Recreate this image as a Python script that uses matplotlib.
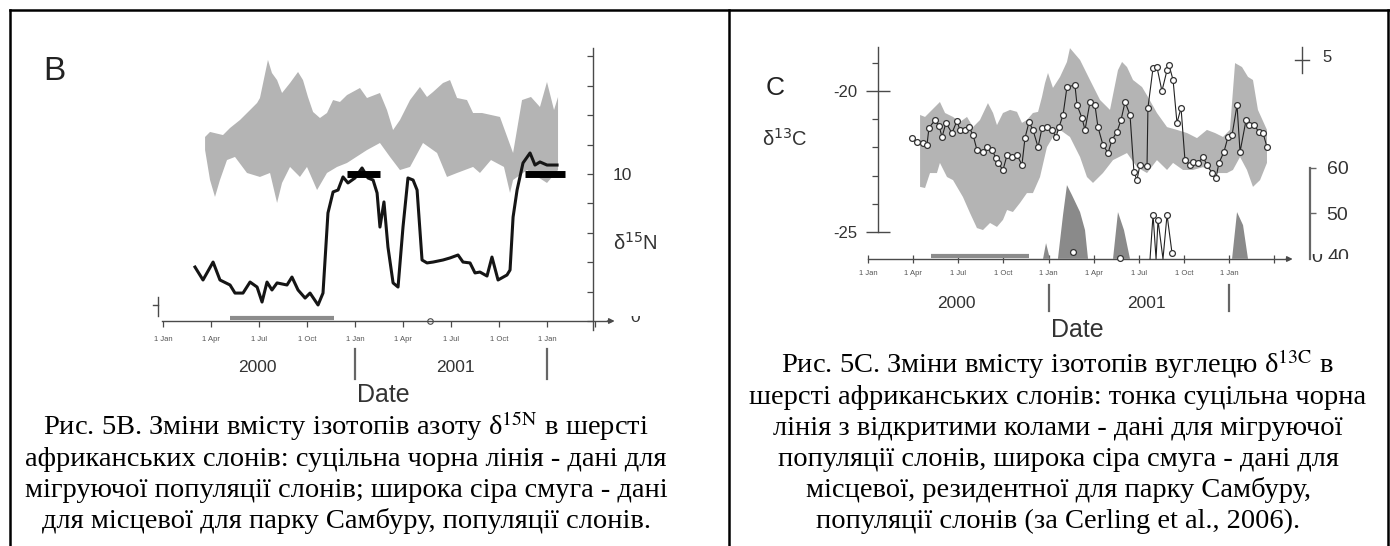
import matplotlib
matplotlib.use("Agg")
import matplotlib.pyplot as plt
from matplotlib.lines import Line2D
from matplotlib.patches import Rectangle
from matplotlib.transforms import blended_transform_factory

plt.rcParams["font.family"] = ["Liberation Sans", "DejaVu Sans"]
plt.rcParams["axes.unicode_minus"] = False

# ---------------- data (x = months since 1 Jan 2000) ----------------
# panel B: delta15N
b_hi_x = [2.63, 2.94, 3.75, 4.19, 4.81, 5.44, 5.88, 6.06, 6.56, 6.81, 7.13, 7.44, 7.94, 8.44,
          8.75, 9.06, 9.38, 9.81, 10.25, 10.63, 11.06, 11.5, 12.31, 12.75, 13.56, 14.0, 14.38,
          14.81, 15.44, 16.06, 16.5, 16.88, 17.5, 17.94, 18.38, 19.0, 19.38, 19.94, 21.06,
          21.88, 22.44, 23.0, 23.56, 24.0, 24.44, 24.69]
b_hi_y = [12.52, 12.86, 12.65, 13.13, 13.67, 14.35, 14.83, 15.17, 17.76, 16.87, 16.39, 15.51,
          16.19, 16.94, 16.39, 15.24, 14.22, 13.81, 14.15, 15.03, 14.90, 15.37, 15.85, 15.17,
          15.51, 14.35, 12.99, 13.67, 15.03, 15.92, 15.24, 15.58, 16.19, 16.39, 15.17, 15.03,
          14.15, 14.15, 13.88, 11.43, 15.03, 15.24, 14.56, 16.26, 14.35, 15.24]
b_lo_x = [2.63, 2.94, 3.25, 3.56, 4.0, 4.5, 5.25, 6.06, 6.69, 7.13, 7.44, 7.94, 8.56, 9.0,
          9.63, 10.25, 10.88, 11.5, 12.75, 13.56, 14.19, 14.81, 15.44, 16.25, 17.13, 17.75,
          18.38, 19.38, 19.81, 20.5, 21.31, 21.69, 21.88, 22.75, 24.0, 24.69]
b_lo_y = [11.63, 9.59, 8.44, 9.59, 10.95, 11.16, 10.07, 9.80, 10.07, 8.03, 9.39, 10.48, 9.80,
          10.48, 8.91, 10.07, 10.48, 10.75, 11.63, 12.11, 11.16, 10.27, 10.48, 12.11, 11.43,
          9.80, 10.07, 10.48, 10.07, 10.95, 10.48, 8.71, 9.59, 10.27, 9.39, 10.27]
b_mig_x = [2.0, 2.5, 3.13, 3.56, 4.19, 4.5, 5.0, 5.44, 5.88, 6.19, 6.5, 6.81, 7.13, 7.75, 8.06,
           8.44, 8.88, 9.19, 9.69, 10.0, 10.31, 10.63, 10.94, 11.25, 11.56, 12.0, 12.44, 12.81,
           13.13, 13.38, 13.56, 13.81, 14.06, 14.38, 14.69, 15.0, 15.31, 15.63, 15.88, 16.19,
           16.5, 16.88, 17.5, 17.94, 18.44, 18.75, 19.19, 19.5, 19.81, 20.25, 20.56, 20.94,
           21.5, 21.69, 21.88, 22.13, 22.5, 22.94, 23.25, 23.56, 24.0, 24.63]
b_mig_y = [3.67, 2.79, 4.01, 2.79, 2.45, 1.90, 1.90, 2.65, 2.31, 1.29, 2.65, 2.11, 2.59, 2.45,
           2.99, 2.11, 1.56, 1.90, 1.09, 1.90, 7.35, 8.78, 8.91, 9.80, 9.39, 9.73, 10.41, 9.73,
           9.59, 8.71, 6.39, 8.10, 5.03, 2.59, 2.31, 6.39, 9.73, 9.59, 8.91, 4.15, 3.95, 4.01,
           4.15, 4.29, 4.49, 4.01, 3.95, 3.27, 3.33, 3.06, 4.35, 2.79, 3.13, 3.47, 7.07, 8.91,
           10.75, 11.43, 10.61, 10.82, 10.61, 10.61]
b_bars = [(11.5, 13.56, 9.97), (22.6, 25.1, 9.97)]

# panel C: delta13C (left scale) and lower series (right scale 40-60)
c_hi_x = [3.46, 3.79, 4.78, 5.12, 5.65, 6.11, 6.58, 6.98, 7.44, 7.97, 8.31, 8.57, 8.97, 9.44,
          9.90, 10.23, 10.56, 10.96, 11.30, 11.56, 11.76, 11.96, 12.29, 12.76, 13.22, 13.42,
          14.09, 14.75, 15.42, 16.08, 16.61, 16.88, 17.21, 17.61, 18.21, 18.60, 19.20, 19.87,
          20.53, 21.20, 21.86, 22.52, 23.06, 23.59, 24.05, 24.39, 24.85, 25.25, 25.58, 25.91,
          26.51]
c_hi_y = [-20.85, -20.92, -20.39, -20.78, -20.92, -21.10, -20.92, -21.28, -21.03, -20.43,
          -20.78, -21.21, -20.78, -20.67, -20.74, -21.13, -21.03, -20.78, -20.74, -20.21,
          -19.72, -19.36, -19.89, -19.50, -18.97, -18.48, -18.90, -19.61, -20.32, -20.67,
          -19.26, -18.97, -19.15, -19.61, -19.86, -20.21, -20.78, -21.28, -21.38, -21.49,
          -21.67, -21.38, -21.49, -21.63, -21.38, -19.01, -19.15, -19.50, -19.61, -20.67,
          -21.38]
c_lo_x = [3.46, 3.79, 4.12, 4.58, 4.78, 5.25, 5.65, 6.31, 6.78, 7.24, 7.64, 8.11, 8.57, 8.97,
          9.24, 9.63, 10.10, 10.56, 10.96, 11.43, 11.89, 12.29, 12.76, 13.42, 14.09, 14.55,
          14.95, 15.61, 16.28, 17.21, 17.87, 18.54, 19.20, 19.87, 20.27, 20.93, 21.59, 22.26,
          23.19, 23.85, 24.25, 24.72, 25.18, 25.58, 26.05, 26.51]
c_lo_y = [-23.40, -23.44, -22.91, -22.91, -22.55, -23.05, -23.16, -23.76, -24.33, -24.86,
          -24.93, -24.68, -24.82, -24.57, -24.22, -24.29, -23.97, -23.62, -23.62, -23.05,
          -21.99, -21.63, -21.38, -21.63, -22.34, -23.05, -23.26, -22.91, -22.45, -22.20,
          -22.70, -22.91, -22.45, -22.80, -22.55, -22.80, -22.80, -22.70, -22.91, -22.91,
          -22.80, -22.34, -22.80, -23.40, -23.16, -22.55]
c_mig_x = [2.92, 3.26, 3.65, 3.92, 4.05, 4.45, 4.72, 4.92, 5.18, 5.58, 5.91, 6.11, 6.45, 6.71,
           6.98, 7.24, 7.64, 7.91, 8.24, 8.50, 8.64, 8.97, 9.24, 9.57, 9.90, 10.23, 10.43,
           10.70, 10.96, 11.30, 11.56, 11.89, 12.23, 12.49, 12.69, 12.96, 13.22, 13.75, 13.89,
           14.22, 14.42, 14.75, 15.08, 15.28, 15.61, 15.95, 16.21, 16.54, 16.81, 17.08, 17.41,
           17.67, 17.87, 18.07, 18.54, 18.60, 18.94, 19.20, 19.53, 19.87, 20.00, 20.27, 20.53,
           20.80, 21.06, 21.40, 21.59, 21.93, 22.26, 22.52, 22.86, 23.12, 23.32, 23.65, 23.92,
           24.19, 24.52, 24.72, 25.12, 25.32, 25.65, 25.98, 26.25, 26.51]
c_mig_y = [-21.67, -21.81, -21.84, -21.91, -21.31, -21.03, -21.24, -21.63, -21.13, -21.49,
           -21.06, -21.38, -21.38, -21.28, -21.56, -22.09, -22.16, -21.99, -22.09, -22.38,
           -22.55, -22.80, -22.27, -22.34, -22.27, -22.62, -21.67, -21.10, -21.38, -21.99,
           -21.31, -21.28, -21.38, -21.63, -21.28, -20.85, -19.86, -19.79, -20.50, -20.96,
           -21.38, -20.39, -20.50, -21.28, -21.91, -22.20, -21.74, -21.45, -21.03, -20.39,
           -20.85, -22.87, -23.16, -22.62, -22.66, -20.60, -19.18, -19.15, -20.00, -19.26,
           -19.08, -19.61, -21.13, -20.60, -22.45, -22.62, -22.52, -22.55, -22.34, -22.62,
           -22.91, -23.09, -22.55, -22.16, -21.63, -21.56, -20.50, -22.16, -21.03, -21.21,
           -21.21, -21.45, -21.49, -21.99]
c_spikes = [([11.63, 11.83, 12.09], [39.8, 43.3, 39.8]),
            ([12.62, 12.96, 13.22, 13.55, 14.09, 14.42, 14.62],
             [39.8, 49.6, 56.2, 54.0, 50.2, 46.2, 39.8]),
            ([16.28, 16.61, 17.01, 17.41], [39.8, 50.2, 46.2, 39.8]),
            ([24.19, 24.52, 24.92, 25.25], [39.8, 50.2, 47.3, 39.8])]
c_low_x = [18.74, 18.94, 19.14, 19.27, 19.60, 19.87, 20.20]
c_low_y = [39.8, 49.6, 39.8, 48.4, 39.8, 49.6, 41.1]
c_low_pts_x = [13.62, 16.74]
c_low_pts_y = [41.3, 40.0]

season = (4.2, 10.7)          # grey bar on the date axis
tick_pos = [0, 3, 6, 9, 12, 15, 18, 21, 24, 27]
tick_lab = ["1 Jan", "1 Apr", "1 Jul", "1 Oct", "1 Jan", "1 Apr", "1 Jul", "1 Oct", "1 Jan", ""]
years = [("2000", 5.9), ("2001", 18.3)]
year_breaks = [12, 24]

cap_b = ["Рис. 5B. Зміни вмісту ізотопів азоту δ$^{\\mathrm{15N}}$ в шерсті",
         "африканських слонів: суцільна чорна лінія - дані для",
         "мігруючої популяції слонів; широка сіра смуга - дані",
         "для місцевої для парку Самбуру, популяції слонів."]
cap_c = ["Рис. 5С. Зміни вмісту ізотопів вуглецю δ$^{\\mathrm{13C}}$ в",
         "шерсті африканських слонів: тонка суцільна чорна",
         "лінія з відкритими колами - дані для мігруючої",
         "популяції слонів, широка сіра смуга - дані для",
         "місцевої, резидентної для парку Самбуру,",
         "популяції слонів (за Cerling et al., 2006)."]

# ---------------- layout helpers (pixels) ----------------
W, H = 1390, 546
fig = plt.figure(figsize=(W / 100, H / 100), dpi=100)


def fx(px):
    return px / W


def fy(py):
    return 1 - py / H


BAND = "#b4b4b4"
AXC = "#4a4a4a"
TXT = "#333333"

# frame of the two table cells
for xs, ys in [([10, 1390], [10, 10]), ([10, 10], [10, 546]),
               ([729, 729], [10, 546]), ([1388, 1388], [10, 546])]:
    fig.add_artist(Line2D([fx(x) for x in xs], [fy(y) for y in ys], color="black",
                          lw=1.8, transform=fig.transFigure))

# ================= panel B =================
bx0, bpm, by0, bpu = 163, 16.0, 321, 14.7      # px of Jan-2000, px/month, px of 0, px/unit
axB = fig.add_axes([fx(140), fy(335), (660 - 140) / W, (335 - 40) / H])
axB.set_xlim((140 - bx0) / bpm, (660 - bx0) / bpm)
axB.set_ylim((by0 - 335) / bpu, (by0 - 40) / bpu)
axB.patch.set_alpha(0)

axB.fill(b_hi_x + b_lo_x[::-1], b_hi_y + b_lo_y[::-1], color=BAND, lw=0)
axB.plot(b_mig_x, b_mig_y, color="#151515", lw=2.2)
for x0, x1, y in b_bars:
    axB.plot([x0, x1], [y, y], color="black", lw=5, solid_capstyle="butt")
axB.plot(season, [0.2, 0.2], color="#8c8c8c", lw=3, solid_capstyle="butt")
axB.plot([16.7], [0], "o", ms=4, mfc="white", mec=AXC, mew=0.8, clip_on=False)

for s in ["top", "left"]:
    axB.spines[s].set_visible(False)
axB.spines["bottom"].set_position(("data", 0))
axB.spines["bottom"].set_bounds(-0.06, 28.0)
axB.spines["right"].set_position(("data", (593 - bx0) / bpm))
axB.spines["right"].set_bounds(-0.6, 18.6)
for s in ["bottom", "right"]:
    axB.spines[s].set_color(AXC)
    axB.spines[s].set_linewidth(1.0)
axB.annotate("", xy=(28.4, 0), xytext=(27.6, 0),
             arrowprops=dict(arrowstyle="-|>", color=AXC, lw=1.0, mutation_scale=8))
axB.plot([-0.31, -0.31], [0.34, 1.63], color=AXC, lw=1.0)
axB.plot([-0.6, -0.31], [1.09, 1.09], color=AXC, lw=1.0)

axB.set_xticks(tick_pos, tick_lab)
axB.tick_params(axis="x", direction="out", length=4.5, width=0.9, color=AXC,
                labelsize=5.5, labelcolor="#555555", pad=6.5)
axB.yaxis.tick_right()
axB.set_yticks(range(0, 20, 2), ["" if v != 10 else "10" for v in range(0, 20, 2)])
axB.tick_params(axis="y", direction="in", length=4, width=0.9, color=AXC,
                labelsize=12.5, labelcolor=TXT, pad=14)
t0 = axB.text((635 - bx0) / bpm, (by0 - 318) / bpu, "0", fontsize=12.5, color=TXT,
              ha="center", va="center", clip_on=True)
t0.set_clip_path(Rectangle((fx(600), fy(345)), fx(60), (345 - 316) / H,
                           transform=fig.transFigure))
axB.text((613 - bx0) / bpm, (by0 - 243) / bpu, "δ$^{15}$N", fontsize=14.5, color=TXT,
         va="center", ha="left", math_fontfamily="dejavusans")
fig.text(fx(43), fy(71), "B", fontsize=24, color="#222222", va="center", ha="left")

trB = blended_transform_factory(axB.transData, fig.transFigure)
for lab, xm in years:
    axB.text(xm, fy(368), lab, transform=trB, fontsize=12.5, color=TXT,
             ha="center", va="center")
for xm in year_breaks:
    axB.plot([xm, xm], [fy(349), fy(379)], transform=trB, color="#666666", lw=1.6,
             clip_on=False)
axB.text((383 - bx0) / bpm, fy(395), "Date", transform=trB, fontsize=18, color=TXT,
         ha="center", va="center")

# ================= panel C =================
cx0, cpm, cy20, cpu = 868, 15.05, 91, 28.2
axC = fig.add_axes([fx(840), fy(259), (1360 - 840) / W, (259 - 40) / H])
axC.set_xlim((840 - cx0) / cpm, (1360 - cx0) / cpm)
axC.set_ylim(-20 - (259 - cy20) / cpu, -20 + (cy20 - 40) / cpu)
axC.patch.set_alpha(0)

axC.fill(c_hi_x + c_lo_x[::-1], c_hi_y + c_lo_y[::-1], color=BAND, lw=0)
axC.plot(c_mig_x, c_mig_y, color="#222222", lw=0.8, marker="o", ms=4.2,
         mfc="white", mec="#333333", mew=0.9)
axC.plot(season, [-25.86, -25.86], color="#8c8c8c", lw=3, solid_capstyle="butt")

for s in ["top", "right"]:
    axC.spines[s].set_visible(False)
axC.spines["left"].set_position(("data", (878 - cx0) / cpm))
axC.spines["left"].set_bounds(-25, -18.44)
axC.spines["bottom"].set_bounds(0, 28.0)
for s in ["bottom", "left"]:
    axC.spines[s].set_color(AXC)
    axC.spines[s].set_linewidth(1.0)
axC.annotate("", xy=(28.4, axC.get_ylim()[0]), xytext=(27.6, axC.get_ylim()[0]),
             arrowprops=dict(arrowstyle="-|>", color=AXC, lw=1.0, mutation_scale=8),
             annotation_clip=False)
axC.set_xticks(tick_pos, tick_lab)
axC.tick_params(axis="x", direction="inout", length=6, width=0.9, color=AXC,
                labelsize=5.5, labelcolor="#555555", pad=5)
axC.set_yticks([-20, -25], ["-20", "-25"])
axC.set_yticks([-19, -21, -22, -23, -24], minor=True)
axC.tick_params(axis="y", which="major", direction="inout", length=17, width=1.0,
                color=AXC, labelsize=12, labelcolor=TXT, pad=6)
axC.tick_params(axis="y", which="minor", direction="out", length=4, width=0.9, color=AXC)

axC2 = axC.twinx()
axC2.set_ylim(60 - (259 - 168) / 4.5, 60 + (168 - 40) / 4.5)
for sx, sy in c_spikes:
    axC2.fill(sx, sy, color="#8a8a8a", lw=0)
axC2.plot(c_low_x, c_low_y, color="#222222", lw=0.8, marker="o", ms=4.2,
          mfc="white", mec="#333333", mew=0.9, markevery=[1, 3, 5, 6], clip_on=False)
axC2.plot(c_low_pts_x, c_low_pts_y, "o", ms=4.2, mfc="white", mec="#333333", mew=0.9,
          clip_on=False)
for s in ["top", "left", "bottom"]:
    axC2.spines[s].set_visible(False)
axC2.spines["right"].set_position(("data", (1310 - cx0) / cpm))
axC2.spines["right"].set_bounds(39.8, 60)
axC2.spines["right"].set_color("#666666")
axC2.spines["right"].set_linewidth(1.6)
axC2.set_yticks([50, 60], ["50", "60"])
axC2.tick_params(axis="y", direction="out", length=4, width=1.0, color="#666666",
                 labelsize=14, labelcolor=TXT, pad=8)
axC2.text((1327 - cx0) / cpm, 40, "40", fontsize=14, color=TXT, ha="left", va="center",
          clip_on=True)
t0c = axC.text((1317 - cx0) / cpm, -20 - (258 - cy20) / cpu, "0", fontsize=14, color=TXT,
               ha="center", va="center", clip_on=True)
t0c.set_clip_path(Rectangle((fx(1300), fy(285)), fx(40), (285 - 254) / H,
                            transform=fig.transFigure))

# small scale cross with "5"
fig.add_artist(Line2D([fx(1302), fx(1302)], [fy(47), fy(73)], color=AXC, lw=1.0))
fig.add_artist(Line2D([fx(1295), fx(1309)], [fy(60), fy(60)], color=AXC, lw=1.0))
fig.text(fx(1322), fy(58), "5", fontsize=12, color=TXT, ha="left", va="center")

fig.text(fx(766), fy(88), "C", fontsize=19, color="#222222", ha="left", va="center")
fig.text(fx(762), fy(139), "δ$^{13}$C", fontsize=14.5, color=TXT, ha="left",
         va="center", math_fontfamily="dejavusans")

trC = blended_transform_factory(axC.transData, fig.transFigure)
for lab, xm in [("2000", 5.9), ("2001", 18.5)]:
    axC.text(xm, fy(303), lab, transform=trC, fontsize=12.5, color=TXT,
             ha="center", va="center")
for xm in year_breaks:
    axC.plot([xm, xm], [fy(285), fy(311)], transform=trC, color="#666666", lw=1.6,
             clip_on=False)
axC.text((1077 - cx0) / cpm, fy(330), "Date", transform=trC, fontsize=18, color=TXT,
         ha="center", va="center")

# ================= captions =================
for i, line in enumerate(cap_b):
    fig.text(fx(346), fy(435 + 31 * i), line, fontsize=20.5, ha="center", va="baseline",
             family="Liberation Serif", math_fontfamily="stix", color="black")
for i, line in enumerate(cap_c):
    fig.text(fx(1058), fy(373 + 31 * i), line, fontsize=20.5, ha="center", va="baseline",
             family="Liberation Serif", math_fontfamily="stix", color="black")

fig.savefig("out.png", dpi=100)
